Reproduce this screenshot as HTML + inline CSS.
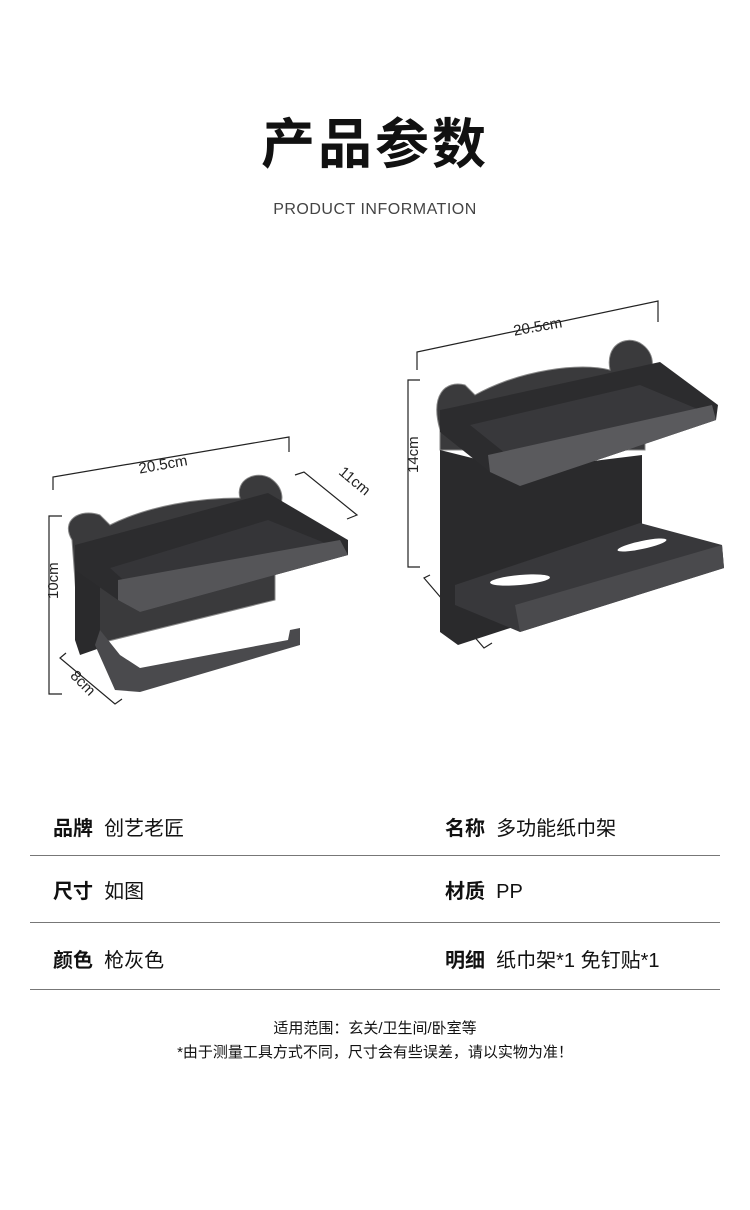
<!DOCTYPE html>
<html><head><meta charset="utf-8"><style>
body{margin:0;width:750px;height:1210px;background:#fff;position:relative;font-family:"Liberation Sans","Noto Sans CJK SC",sans-serif;color:#111;overflow:hidden}
.a{position:absolute;white-space:nowrap}
.t{left:0;width:750px;text-align:center}
.ln{position:absolute;left:30px;width:690px;height:1px;background:#777}
b{font-weight:bold}
</style></head><body>
<div class="a t" style="top:100px;font-size:54px;font-weight:bold;letter-spacing:3px">产品参数</div>
<div class="a t" style="top:201px;font-size:16px;color:#444;letter-spacing:.5px">PRODUCT INFORMATION</div>
<svg class="a" style="left:0;top:0" width="750" height="760" viewBox="0 0 750 760">
<g stroke="#222" stroke-width="1.2" fill="none">
<polyline points="53,490 53,477 289,437 289,452"/>
<polyline points="62,516 49,516 49,694 62,694"/>
<polyline points="295,475 304,472 357,515 347,519"/>
<polyline points="66,653 60,658 115,704 122,699"/>
<polyline points="417,370 417,352 658,301 658,322"/>
<polyline points="420,380 408,380 408,567 420,567"/>
<polyline points="430,575 424,578 484,648 492,643"/>
</g>
<g font-size="15" fill="#222" font-family="Liberation Sans,sans-serif">
<text x="138" y="469" transform="rotate(-10 165 462)">20.5cm</text>
<text x="330" y="485" transform="rotate(40 350 490)">11cm</text>
<text x="44" y="625" transform="rotate(-90 38 605)">10cm</text>
<text x="68" y="690" transform="rotate(45 85 685)">8cm</text>
<text x="512" y="331" transform="rotate(-10 540 320)">20.5cm</text>
<text x="400" y="495" transform="rotate(-90 398 475)">14cm</text>
<text x="428" y="605" transform="rotate(50 448 612)">11cm</text>
</g>
<!-- left product -->
<path d="M72,540 C60,520 80,508 100,515 L110,525 C150,505 200,498 240,498 C235,480 255,470 270,478 C285,488 285,505 275,510 L275,600 L80,648 Z" fill="#3a3a3c" stroke="#888" stroke-width="1"/>
<path d="M75,545 L100,552 L100,648 L80,655 L75,640 Z" fill="#2a2a2c"/>
<path d="M75,545 L268,493 L348,540 L348,555 L140,612 L118,600 L75,570 Z" fill="#2c2c2e"/>
<path d="M110,568 L268,520 L330,545 L140,595 Z" fill="#353538"/>
<path d="M118,580 L340,540 L348,555 L140,612 L118,600 Z" fill="#555558"/>
<path d="M95,645 L115,690 L140,692 L300,645 L300,628 L290,630 L288,640 L140,668 L120,655 L100,630 Z" fill="#4a4a4d"/>
<!-- right product -->
<path d="M440,430 C430,395 445,380 465,385 L475,395 C520,370 580,362 610,370 C605,345 625,335 640,343 C655,352 656,370 645,378 L645,450 L440,450 Z" fill="#3a3a3c" stroke="#888" stroke-width="1"/>
<path d="M440,450 L440,632 L458,645 L642,585 L642,455 L520,470 Z" fill="#2a2a2c"/>
<path d="M440,410 L450,408 L660,362 L718,405 L716,420 L520,486 L490,472 L440,432 Z" fill="#2c2c2e"/>
<path d="M470,425 L640,385 L700,410 L520,465 Z" fill="#38383b"/>
<path d="M488,455 L712,405 L716,420 L520,486 L490,472 Z" fill="#5a5a5d"/>
<path d="M455,585 L640,523 L722,545 L724,568 L520,632 L455,605 Z" fill="#38383b"/>
<path d="M515,605 L722,545 L724,568 L520,632 Z" fill="#4a4a4d"/>
<ellipse cx="520" cy="580" rx="30" ry="5" fill="#fff" transform="rotate(-5 520 580)"/>
<ellipse cx="642" cy="545" rx="25" ry="4" fill="#fff" transform="rotate(-12 642 545)"/>
</svg>
<div class="a" style="left:53px;top:812px;font-size:20px"><b>品牌</b>&nbsp; 创艺老匠</div>
<div class="a" style="left:445px;top:812px;font-size:20px"><b>名称</b>&nbsp; 多功能纸巾架</div>
<div class="ln" style="top:855px"></div>
<div class="a" style="left:53px;top:875px;font-size:20px"><b>尺寸</b>&nbsp; 如图</div>
<div class="a" style="left:445px;top:875px;font-size:20px"><b>材质</b>&nbsp; PP</div>
<div class="ln" style="top:922px"></div>
<div class="a" style="left:53px;top:944px;font-size:20px"><b>颜色</b>&nbsp; 枪灰色</div>
<div class="a" style="left:445px;top:944px;font-size:20px"><b>明细</b>&nbsp; 纸巾架*1 免钉贴*1</div>
<div class="ln" style="top:989px"></div>
<div class="a t" style="top:1017px;font-size:15px">适用范围：玄关/卫生间/卧室等</div>
<div class="a t" style="top:1041px;font-size:15px">*由于测量工具方式不同，尺寸会有些误差，请以实物为准！</div>
</body></html>
